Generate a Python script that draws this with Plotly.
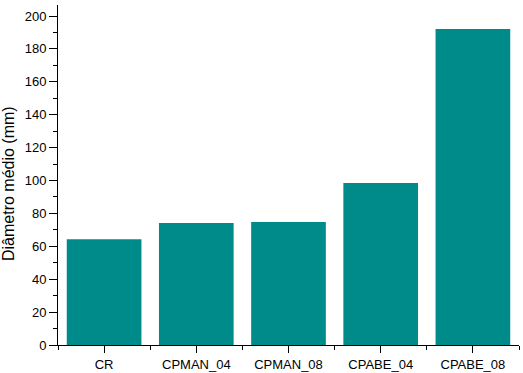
import plotly.graph_objects as go

categories = ["CR", "CPMAN_04", "CPMAN_08", "CPABE_04", "CPABE_08"]
diametro_medio = [64.3, 74.2, 74.8, 98.5, 192.1]
y_tick_values = [0, 20, 40, 60, 80, 100, 120, 140, 160, 180, 200]
y_title = "Diâmetro médio (mm)"

positions = list(range(len(categories)))

fig = go.Figure(
    go.Bar(
        x=positions,
        y=diametro_medio,
        marker=dict(color="#008B8B", line=dict(width=0)),
        width=0.81,
    )
)

font_family = "Liberation Sans, Arial, sans-serif"

fig.update_layout(
    width=523,
    height=373,
    margin=dict(l=58, r=4, t=5, b=28, autoexpand=False),
    paper_bgcolor="white",
    plot_bgcolor="white",
    showlegend=False,
    font=dict(family=font_family, size=13, color="black"),
)

fig.update_xaxes(
    range=[-0.5, 4.5],
    automargin=False,
    tickmode="array",
    tickvals=positions,
    ticktext=categories,
    ticks="outside",
    ticklen=7,
    tickwidth=1,
    tickcolor="black",
    showline=True,
    linecolor="black",
    linewidth=1,
    showgrid=False,
    zeroline=False,
    tickfont=dict(size=13),
    minor=dict(tick0=0.5, dtick=1, ticks="outside", ticklen=4, tickwidth=1, tickcolor="black", showgrid=False),
)

fig.update_yaxes(
    range=[0, 206.7],
    automargin=False,
    tickmode="array",
    tickvals=y_tick_values,
    ticks="outside",
    ticklen=8,
    tickwidth=1,
    tickcolor="black",
    showline=True,
    linecolor="black",
    linewidth=1,
    showgrid=False,
    zeroline=False,
    tickfont=dict(size=13),
    minor=dict(tick0=10, dtick=20, ticks="outside", ticklen=4, tickwidth=1, tickcolor="black", showgrid=False),
)

fig.add_annotation(
    text=y_title,
    textangle=-90,
    xref="paper",
    yref="paper",
    x=0,
    xshift=-50,
    y=0.4735,
    xanchor="center",
    yanchor="middle",
    showarrow=False,
    font=dict(size=16, color="black"),
)

fig.write_html(
    "out.html",
    config={"displayModeBar": False},
    post_script="document.body.style.margin='0';document.body.style.padding='0';document.body.style.overflow='hidden';",
)
